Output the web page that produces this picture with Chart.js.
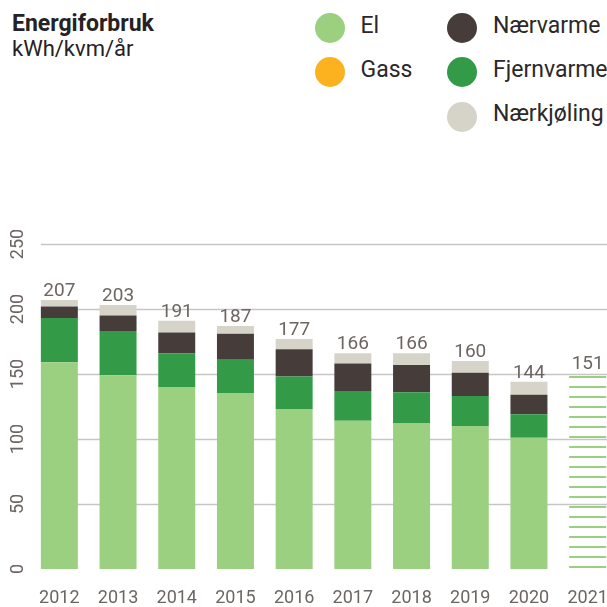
<!DOCTYPE html>
<html>
<head>
<meta charset="utf-8">
<script src="https://cdn.jsdelivr.net/npm/chart.js@4"></script>
<style>
  html, body { margin: 0; padding: 0; background: #fff; }
  body { width: 607px; height: 607px; overflow: hidden; position: relative; font-family: Roboto, sans-serif; }
  #wrap { position: absolute; left: 0; top: 0; width: 628px; height: 607px; }
  .title { position: absolute; left: 12px; top: 12px; font-size: 23px; line-height: 23px; font-weight: bold; color: #262223; }
  .sub { position: absolute; left: 12px; top: 38px; font-size: 22px; line-height: 22px; color: #262223; }
  .lg-dot { position: absolute; width: 30px; height: 30px; border-radius: 50%; }
  .lg-txt { position: absolute; font-size: 23px; line-height: 23px; color: #2b2829; white-space: nowrap; }
</style>
</head>
<body>
<div class="title">Energiforbruk</div>
<div class="sub">kWh/kvm/år</div>
<div id="legend"></div>
<div id="wrap"><canvas id="chart" width="628" height="607"></canvas></div>
<script>
// Data (kWh/kvm/år)
const years = ["2012", "2013", "2014", "2015", "2016", "2017", "2018", "2019", "2020", "2021"];
const el = [159, 149, 140, 135, 123, 114, 112, 110, 101, null];
const gass = [0, 0, 0, 0, 0, 0, 0, 0, 0, null];
const fjernvarme = [34, 34, 26, 26, 25, 23, 24, 23, 18, null];
const naervarme = [9, 12, 16, 20, 21, 21, 21, 18, 15, null];
const naerkjoling = [5, 8, 9, 6, 8, 8, 9, 9, 10, null];
const prognose = [null, null, null, null, null, null, null, null, null, 151];
const yTicks = [0, 50, 100, 150, 200, 250];

const colors = {
  el: "#9ad07f",
  gass: "#fbb21e",
  fjernvarme: "#339a47",
  naervarme: "#463d3b",
  naerkjoling: "#d6d4c9"
};
const textGrey = "#6d6562";

// stripete mønster for 2021-søylen
function stripes() {
  const c = document.createElement("canvas");
  c.width = 10;
  c.height = 10;
  const g = c.getContext("2d");
  g.fillStyle = colors.el;
  g.fillRect(0, 6, 10, 2);
  return g.createPattern(c, "repeat");
}

// gridlinjer som starter ved første søyle
const gridPlugin = {
  id: "grid",
  beforeDatasetsDraw(chart) {
    const { ctx, scales: { y } } = chart;
    const first = chart.getDatasetMeta(0).data[0];
    const left = first.x - first.width / 2;
    ctx.save();
    ctx.strokeStyle = "#c6c6c6";
    ctx.lineWidth = 1.5;
    yTicks.forEach(v => {
      if (v === 0) return;
      const py = Math.round(y.getPixelForValue(v)) + 0.5;
      ctx.beginPath();
      ctx.moveTo(left, py);
      ctx.lineTo(chart.width, py);
      ctx.stroke();
    });
    ctx.restore();
  }
};

// totalsum over hver søyle
const totalsPlugin = {
  id: "totals",
  afterDatasetsDraw(chart) {
    const { ctx, scales: { x, y } } = chart;
    ctx.save();
    ctx.font = "19px Roboto";
    ctx.fillStyle = textGrey;
    ctx.textAlign = "center";
    ctx.textBaseline = "alphabetic";
    years.forEach((yr, i) => {
      let sum = 0;
      chart.data.datasets.forEach(ds => { if (ds.data[i] != null) sum += ds.data[i]; });
      ctx.fillText(String(sum), x.getPixelForValue(i), y.getPixelForValue(sum) - 4);
    });
    ctx.restore();
  }
};

const chart = new Chart(document.getElementById("chart"), {
  type: "bar",
  data: {
    labels: years,
    datasets: [
      { label: "El", data: el, backgroundColor: colors.el },
      { label: "Gass", data: gass, backgroundColor: colors.gass },
      { label: "Fjernvarme", data: fjernvarme, backgroundColor: colors.fjernvarme },
      { label: "Nærvarme", data: naervarme, backgroundColor: colors.naervarme },
      { label: "Nærkjøling", data: naerkjoling, backgroundColor: colors.naerkjoling },
      { label: "Prognose", data: prognose, backgroundColor: stripes() }
    ]
  },
  options: {
    responsive: false,
    animation: false,
    devicePixelRatio: 1,
    layout: { padding: { top: 244, right: 11, left: 0, bottom: 0 } },
    datasets: { bar: { barPercentage: 0.63, categoryPercentage: 1, borderWidth: 0 } },
    plugins: {
      legend: { display: false },
      tooltip: { enabled: false }
    },
    scales: {
      x: {
        stacked: true,
        grid: { display: false, drawTicks: false },
        border: { display: false },
        ticks: { color: textGrey, font: { family: "Roboto", size: 18 }, padding: 19, maxRotation: 0 },
        afterFit: s => { s.height = 38; }
      },
      y: {
        stacked: true,
        min: 0,
        max: 250,
        afterBuildTicks: s => { s.ticks = yTicks.map(v => ({ value: v })); },
        grid: { display: false, drawTicks: false },
        border: { display: false },
        ticks: {
          color: textGrey,
          font: { family: "Roboto", size: 18 },
          minRotation: 90,
          maxRotation: 90,
          crossAlign: "center",
          padding: -4
        },
        afterFit: s => { s.width = 30; }
      }
    }
  },
  plugins: [gridPlugin, totalsPlugin]
});

// HTML-legende bygget fra datasettene
const legendOrder = ["El", "Gass", "Nærvarme", "Fjernvarme", "Nærkjøling"];
const legendEl = document.getElementById("legend");
legendOrder.forEach((name, i) => {
  const ds = chart.data.datasets.find(d => d.label === name);
  const col = i < 2 ? 0 : 1;
  const row = i < 2 ? i : i - 2;
  const cx = col === 0 ? 329.5 : 462;
  const cy = 28 + row * 44.3;
  const dot = document.createElement("div");
  dot.className = "lg-dot";
  dot.style.left = (cx - 15) + "px";
  dot.style.top = (cy - 15) + "px";
  dot.style.background = ds.backgroundColor;
  const txt = document.createElement("div");
  txt.className = "lg-txt";
  txt.textContent = name;
  txt.style.left = (cx + 31) + "px";
  txt.style.top = (cy + 5 - 19.4) + "px";
  legendEl.appendChild(dot);
  legendEl.appendChild(txt);
});
</script>
</body>
</html>
